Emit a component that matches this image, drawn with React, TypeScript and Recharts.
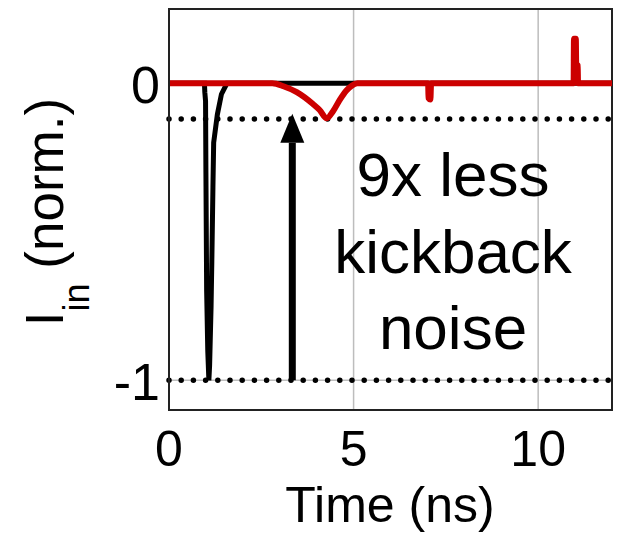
import React from "react";
import {
  CartesianGrid,
  Line,
  LineChart,
  ReferenceArea,
  ReferenceLine,
  XAxis,
  YAxis,
} from "recharts";

// Kickback current, normalized. Black = conventional, red = proposed.
const conventional = [
  { t: 0, i: 0 },
  { t: 0.96, i: 0 },
  { t: 0.97, i: -0.03 },
  { t: 0.99, i: -0.06 },
  { t: 1.0, i: -0.3 },
  { t: 1.02, i: -0.7 },
  { t: 1.05, i: -0.9 },
  { t: 1.08, i: -1.0 },
  { t: 1.1, i: -0.95 },
  { t: 1.14, i: -0.75 },
  { t: 1.16, i: -0.6 },
  { t: 1.19, i: -0.35 },
  { t: 1.21, i: -0.2 },
  { t: 1.31, i: -0.105 },
  { t: 1.42, i: -0.037 },
  { t: 1.57, i: 0 },
  { t: 12, i: 0 },
];

const proposed = [
  { t: 0, i: 0 },
  { t: 2.8, i: 0 },
  { t: 3.1, i: -0.01 },
  { t: 3.46, i: -0.03 },
  { t: 3.9, i: -0.07 },
  { t: 4.08, i: -0.09 },
  { t: 4.27, i: -0.118 },
  { t: 4.44, i: -0.095 },
  { t: 4.63, i: -0.055 },
  { t: 4.8, i: -0.025 },
  { t: 4.95, i: -0.008 },
  { t: 5.1, i: 0 },
  { t: 7.02, i: 0 },
  { t: 7.03, i: -0.05 },
  { t: 7.08, i: -0.055 },
  { t: 7.1, i: 0 },
  { t: 10.96, i: 0 },
  { t: 10.97, i: 0.15 },
  { t: 11.02, i: 0.15 },
  { t: 11.03, i: 0.065 },
  { t: 11.07, i: 0.06 },
  { t: 11.08, i: 0 },
  { t: 12, i: 0 },
];

// arrow from the conventional peak up to the proposed peak
const arrow = [
  { t: 3.34, i: -1.0 },
  { t: 3.34, i: -0.2 },
];

const xTicks = [0, 5, 10];
const yTicks = [-1, 0];
const peakLevels = [-0.12, -1];
const noteLines = ["9x less", "kickback", "noise"];

const FONT = '"Liberation Sans", Arial, sans-serif';

function XTick({ x, payload }: any) {
  return (
    <text x={x} y={466} textAnchor="middle" fontSize={50} fontFamily={FONT} fill="#000">
      {payload.value}
    </text>
  );
}

function YTick({ y, payload }: any) {
  return (
    <text x={160} y={y + 20} textAnchor="end" fontSize={52} fontFamily={FONT} fill="#000">
      {payload.value}
    </text>
  );
}

function XLabel() {
  return (
    <text x={390} y={522} textAnchor="middle" fontSize={50} fontFamily={FONT} fill="#000">
      Time (ns)
    </text>
  );
}

function YLabel() {
  return (
    <text
      x={63}
      y={212}
      transform="rotate(-90, 63, 212)"
      textAnchor="middle"
      fontSize={53}
      fontFamily={FONT}
      fill="#000"
    >
      <tspan>I</tspan>
      <tspan dy={26} fontSize={36}>in</tspan>
      <tspan dy={-26}> (norm.)</tspan>
    </text>
  );
}

function ArrowHead({ cx, cy, index }: any) {
  if (index !== 1) return null;
  // tip sits on the dotted line above the last point
  const tip = cy - 29;
  return <polygon points={`${cx},${tip} ${cx - 12},${tip + 29} ${cx + 12},${tip + 29}`} fill="#000" />;
}

export default function App() {
  return (
    <div style={{ position: "relative", width: 617, height: 533, background: "#fff" }}>
      <style>{"body{margin:0}"}</style>
      <LineChart width={617} height={533} margin={{ top: 9, right: 5, bottom: 0, left: 0 }}>
        <CartesianGrid stroke="#bdbdbd" strokeWidth={1.5} horizontalValues={yTicks} verticalValues={xTicks} />
        <XAxis
          type="number"
          dataKey="t"
          domain={[0, 12]}
          ticks={xTicks}
          height={123}
          tick={<XTick />}
          tickLine={false}
          axisLine={{ stroke: "#222", strokeWidth: 2 }}
          label={<XLabel />}
          allowDataOverflow
        />
        <YAxis
          type="number"
          dataKey="i"
          domain={[-1.1, 0.25]}
          ticks={yTicks}
          width={169}
          tick={<YTick />}
          tickLine={false}
          axisLine={{ stroke: "#222", strokeWidth: 2 }}
          label={<YLabel />}
          allowDataOverflow
        />
        <ReferenceArea x1={0} x2={12} y1={-1.1} y2={0.25} fill="none" stroke="#222" strokeWidth={2} />
        {peakLevels.map((v) => (
          <ReferenceLine
            key={v}
            y={v}
            stroke="#000"
            strokeWidth={5.5}
            strokeDasharray="0 12.2"
            strokeLinecap="round"
          />
        ))}
        <Line
          data={conventional}
          dataKey="i"
          type="linear"
          stroke="#000"
          strokeWidth={5}
          dot={false}
          isAnimationActive={false}
        />
        <Line
          data={proposed}
          dataKey="i"
          type="monotone"
          stroke="#cc0000"
          strokeWidth={6}
          dot={false}
          isAnimationActive={false}
        />
        <Line
          data={arrow}
          dataKey="i"
          type="linear"
          stroke="#000"
          strokeWidth={7}
          dot={<ArrowHead />}
          isAnimationActive={false}
        />
      </LineChart>
      <div
        style={{
          position: "absolute",
          left: 303,
          top: 137,
          width: 300,
          textAlign: "center",
          fontFamily: FONT,
          fontSize: 62,
          lineHeight: "76.5px",
          color: "#000",
        }}
      >
        {noteLines.map((l) => (
          <div key={l}>{l}</div>
        ))}
      </div>
    </div>
  );
}
